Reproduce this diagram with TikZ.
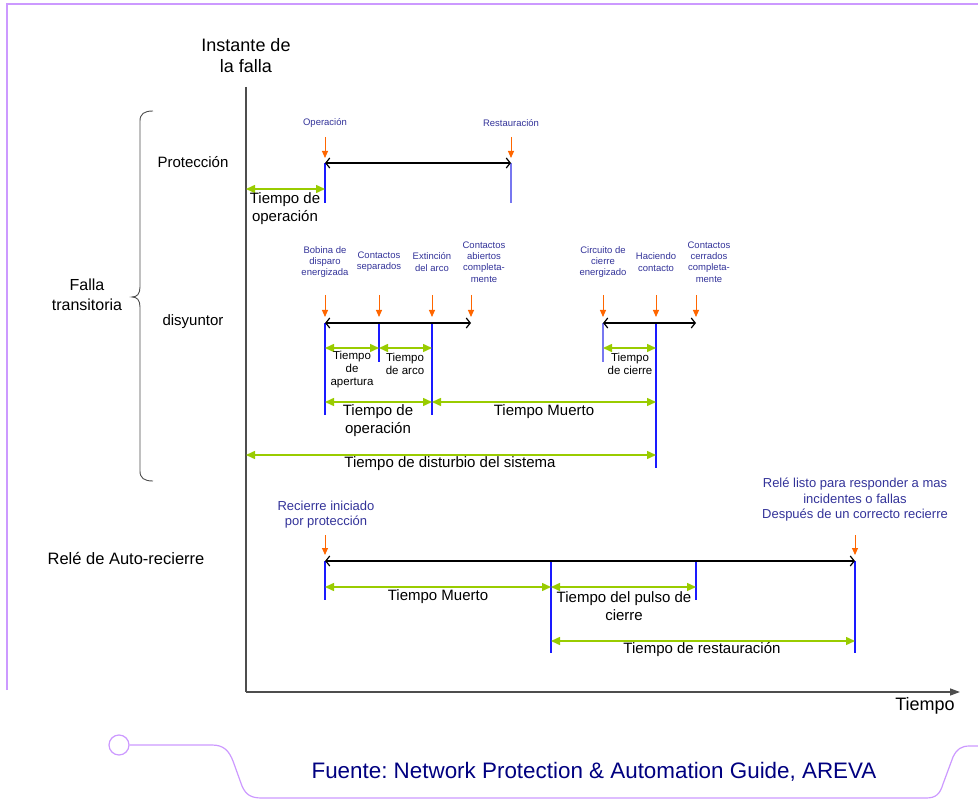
\documentclass[tikz,border=0pt]{standalone}
\usepackage{fontspec}
\setmainfont{Liberation Sans}
\usetikzlibrary{arrows.meta}
\frenchspacing

\definecolor{framelilac}{HTML}{CC99FF}
\definecolor{spangreen}{HTML}{99CC00}
\definecolor{cueorange}{HTML}{FF6600}
\definecolor{tickblue}{HTML}{1A1AFF}
\definecolor{tickpale}{HTML}{7777F0}
\definecolor{noteblue}{HTML}{333399}
\definecolor{sourceblue}{HTML}{000080}
\definecolor{axisgray}{HTML}{4D4D4D}

\tikzset{
  axisline/.style={draw=axisgray, line width=1.3pt},
  spanarrow/.style={draw=spangreen, line width=1.5pt,
    {Triangle[length=9pt,width=8pt]}-{Triangle[length=9pt,width=8pt]}},
  timeline/.style={draw=black, line width=1.2pt,
    {Straight Barb[length=4pt,width=10pt]}-{Straight Barb[length=4pt,width=10pt]}},
  tickline/.style={draw=tickblue, line width=1.2pt},
  paletick/.style={draw=tickpale, line width=1.2pt},
  cuearrow/.style={draw=cueorange, line width=1pt, -{Triangle[length=7pt,width=6pt]}},
  biglabel/.style={font=\fontsize{18}{21}\selectfont, align=center, inner sep=0pt},
  rowlabel/.style={font=\fontsize{15}{20}\selectfont, align=center, inner sep=0pt},
  spanlabel/.style={font=\fontsize{15}{18}\selectfont, align=center, inner sep=0pt},
  steplabel/.style={font=\fontsize{11.5}{13}\selectfont, align=center, inner sep=0pt},
  eventlabel/.style={text=noteblue, font=\fontsize{9.5}{11.3}\selectfont, align=center, inner sep=0pt},
  relaylabel/.style={text=noteblue, font=\fontsize{13}{15.5}\selectfont, align=center, inner sep=0pt},
}

\begin{document}
\begin{tikzpicture}[x=1pt, y=-1pt]
\useasboundingbox (0,0) rectangle (978,802);

% ---------- outer frame and source banner ----------
\coordinate (frameTL) at (7,4);
\coordinate (frameTR) at (978,4);
\coordinate (frameBL) at (7,690);
\draw[framelilac, line width=1.2pt] (frameBL) -- (frameTL) -- (frameTR);
\node[circle, draw=framelilac, line width=1.2pt, minimum size=20pt, inner sep=0pt] (knob) at (119,745) {};
\draw[framelilac, line width=1.2pt] (knob.east) -- (212,745)
  .. controls (224,745) and (229,751) .. (233,761) -- (242,786)
  .. controls (246,795) and (251,798) .. (262,798) -- (926,798)
  .. controls (936,798) and (940,794) .. (943,784) -- (953,757)
  .. controls (957,749) and (961,746) .. (970,746) -- (978,746);
\node[text=sourceblue, font=\fontsize{22.4}{24}\selectfont, inner sep=0pt] (source) at (594,772)
  {Fuente: Network Protection \& Automation Guide, AREVA};

% ---------- time axis ----------
\coordinate (origin) at (246,692);
\coordinate (axisTop) at (246,87);
\coordinate (axisEnd) at (960,692);
\draw[axisline] (axisTop) -- (origin);
\draw[axisline, -{Triangle[length=10pt,width=7pt]}] (origin) -- (axisEnd);
\node[biglabel] (faultTitle) at (246,56) {Instante de\\la falla};
\node[biglabel] (timeTitle) at (925,706) {Tiempo};

% ---------- row titles and brace ----------
\node[rowlabel, font=\fontsize{16}{20}\selectfont] (transient) at (87,295) {Falla\\transitoria};
\node[rowlabel] (protTitle) at (193,162) {Protección};
\node[rowlabel] (breakerTitle) at (193,322) {disyuntor};
\node[rowlabel, font=\fontsize{16.5}{20}\selectfont] (relayTitle) at (126,559) {Relé de Auto-recierre};
\coordinate (braceTop) at (153,111);
\coordinate (braceTip) at (132,297);
\coordinate (braceBot) at (153,481);
\draw[axisgray, line width=0.9pt] (braceTop)
  .. controls (144,111) and (140,114) .. (140,121) -- (140,287)
  .. controls (140,294) and (137,297) .. (braceTip)
  .. controls (137,297) and (140,300) .. (140,307) -- (140,471)
  .. controls (140,478) and (144,481) .. (braceBot);

% ---------- protection row ----------
\coordinate (pOp) at (325,163);
\coordinate (pRes) at (511,163);
\coordinate (pFault) at (246,189);
\coordinate (pTickEnd) at (0,203);
\coordinate (pCueTop) at (0,137);
\coordinate (pCueBot) at (0,158);
\coordinate (pLab) at (0,123);
\node[eventlabel] (lOp) at (pOp |- pLab) {Operación};
\node[eventlabel] (lRes) at (pRes |- pLab) {Restauración};
\draw[cuearrow] (pOp |- pCueTop) -- (pOp |- pCueBot);
\draw[cuearrow] (pRes |- pCueTop) -- (pRes |- pCueBot);
\draw[tickline] (pOp) -- (pOp |- pTickEnd);
\draw[paletick] (pRes) -- (pRes |- pTickEnd);
\draw[timeline] (pOp) -- (pRes);
\draw[spanarrow] (pFault) -- (pOp |- pFault);
\node[spanlabel] (sProt) at (285,209) {Tiempo de\\operación};

% ---------- breaker row ----------
\coordinate (bTrip) at (325,323);
\coordinate (bSep) at (379,323);
\coordinate (bExt) at (432,323);
\coordinate (bOpen) at (471,323);
\coordinate (cEnerg) at (603,323);
\coordinate (cMake) at (656,323);
\coordinate (cShut) at (696,323);
\coordinate (bCueTop) at (0,295);
\coordinate (bCueBot) at (0,317);
\coordinate (bLab) at (0,262);
\coordinate (bShortEnd) at (0,362);
\coordinate (bLongEnd) at (0,415);
\coordinate (cLongEnd) at (0,468);
\coordinate (bSpanA) at (0,348);
\coordinate (bSpanB) at (0,402);
\coordinate (bSpanC) at (246,455);

\node[eventlabel] (lTrip) at (bTrip |- bLab) {Bobina de\\disparo\\energizada};
\node[eventlabel] (lSep) at (bSep |- bLab) {Contactos\\separados};
\node[eventlabel] (lExt) at (bExt |- bLab) {Extinción\\del arco};
\node[eventlabel] (lOpen) at (484,262) {Contactos\\abiertos\\completa-\\mente};
\node[eventlabel] (lEnerg) at (cEnerg |- bLab) {Circuito de\\cierre\\energizado};
\node[eventlabel] (lMake) at (cMake |- bLab) {Haciendo\\contacto};
\node[eventlabel] (lShut) at (709,262) {Contactos\\cerrados\\completa-\\mente};

\foreach \p in {bTrip,bSep,bExt,bOpen,cEnerg,cMake,cShut}
  \draw[cuearrow] (\p |- bCueTop) -- (\p |- bCueBot);

\draw[tickline] (bTrip) -- (bTrip |- bLongEnd);
\draw[tickline] (bSep) -- (bSep |- bShortEnd);
\draw[tickline] (bExt) -- (bExt |- bLongEnd);
\draw[paletick] (cEnerg) -- (cEnerg |- bShortEnd);
\draw[tickline] (cMake) -- (cMake |- cLongEnd);
\draw[timeline] (bTrip) -- (bOpen);
\draw[timeline] (cEnerg) -- (cShut);

\draw[spanarrow] (bTrip |- bSpanA) -- (bSep |- bSpanA);
\draw[spanarrow] (bSep |- bSpanA) -- (bExt |- bSpanA);
\draw[spanarrow] (cEnerg |- bSpanA) -- (cMake |- bSpanA);
\draw[spanarrow] (bTrip |- bSpanB) -- (bExt |- bSpanB);
\draw[spanarrow] (bExt |- bSpanB) -- (cMake |- bSpanB);
\draw[spanarrow] (bSpanC) -- (cMake |- bSpanC);

\node[steplabel] (sOpen) at (352,370) {Tiempo\\de\\apertura};
\node[steplabel] (sArc) at (405,363.5) {Tiempo\\de arco};
\node[steplabel] (sClose) at (630,363.5) {Tiempo\\de cierre};
\node[spanlabel] (sBrk) at (378,421) {Tiempo de\\operación};
\node[spanlabel] (sDead) at (544,412) {Tiempo Muerto};
\node[spanlabel] (sDist) at (450,464) {Tiempo de disturbio del sistema};

% ---------- auto-reclose relay row ----------
\coordinate (rStart) at (325,561);
\coordinate (rClose) at (551,561);
\coordinate (rPulse) at (696,561);
\coordinate (rReady) at (855,561);
\coordinate (rCueTop) at (0,535);
\coordinate (rCueBot) at (0,555);
\coordinate (rShortEnd) at (0,600);
\coordinate (rLongEnd) at (0,653);
\coordinate (rSpanA) at (0,587);
\coordinate (rSpanB) at (0,641);

\node[relaylabel] (lStart) at (326,514.5) {Recierre iniciado\\por protección};
\node[relaylabel] (lReady) at (855,500) {Relé listo para responder a mas\\incidentes o fallas\\Después de un correcto recierre};
\draw[cuearrow] (rStart |- rCueTop) -- (rStart |- rCueBot);
\draw[cuearrow] (rReady |- rCueTop) -- (rReady |- rCueBot);

\draw[tickline] (rStart) -- (rStart |- rShortEnd);
\draw[tickline] (rClose) -- (rClose |- rLongEnd);
\draw[tickline] (rPulse) -- (rPulse |- rShortEnd);
\draw[tickline] (rReady) -- (rReady |- rLongEnd);
\draw[timeline] (rStart) -- (rReady);

\draw[spanarrow] (rStart |- rSpanA) -- (rClose |- rSpanA);
\draw[spanarrow] (rClose |- rSpanA) -- (rPulse |- rSpanA);
\draw[spanarrow] (rClose |- rSpanB) -- (rReady |- rSpanB);

\node[spanlabel] (sRDead) at (438,597) {Tiempo Muerto};
\node[spanlabel] (sPulse) at (624,606) {Tiempo del pulso de\\cierre};
\node[spanlabel] (sRest) at (702,650) {Tiempo de restauración};
\end{tikzpicture}
\end{document}
